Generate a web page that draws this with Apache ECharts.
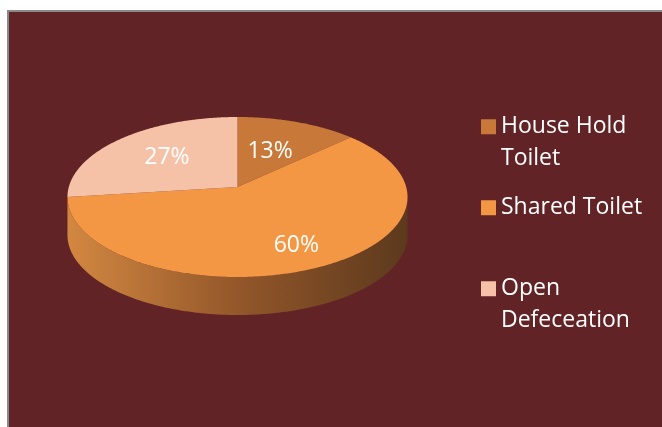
<!DOCTYPE html>
<html>
<head>
<meta charset="utf-8">
<script src="https://cdn.jsdelivr.net/npm/echarts@6/dist/echarts.min.js"></script>
<style>
html,body{margin:0;padding:0;background:#ffffff;}
#chart{width:662px;height:427px;}
</style>
</head>
<body>
<div id="chart"></div>
<script>
// ---- data ----
const categories = ['House Hold Toilet', 'Shared Toilet', 'Open Defeceation'];
const legendLines = [['House Hold', 'Toilet'], ['Shared Toilet'], ['Open', 'Defeceation']];
const values = [13, 60, 27];
const colors = ['#c8793a', '#f39745', '#f6c2a7'];

// ---- layout of the 3D pie ----
const CX = 237.5, CY = 187, R = 168.7, RT = 78.75, P = 0.125, DEPTH = 38;

function proj(phi, f, dy) {
  const u = Math.sin(phi) * f, v = Math.cos(phi) * f;
  const s = 1 / (1 + P * v);
  return [CX + R * u * s, CY - RT * v * s + dy];
}

const total = values.reduce((a, b) => a + b, 0);

function renderItem(params, api) {
  const i = params.dataIndex;
  let cum = 0;
  for (let k = 0; k < i; k++) cum += values[k];
  const share = values[i] / total;
  const a0 = cum / total * Math.PI * 2;
  const a1 = (cum + values[i]) / total * Math.PI * 2;
  const step = Math.PI / 360;
  const children = [];

  // top face
  const top = [proj(0, 0, 0)];
  for (let a = a0; a < a1; a += step) top.push(proj(a, 1, 0));
  top.push(proj(a1, 1, 0));
  children.push({type: 'polygon', shape: {points: top}, style: {fill: colors[i]}, z2: 10});

  // visible side wall
  const vis0 = Math.acos(-P), vis1 = Math.PI * 2 - vis0;
  const lo = Math.max(a0, vis0), hi = Math.min(a1, vis1);
  if (hi > lo) {
    const side = [];
    for (let a = lo; a < hi; a += step) side.push(proj(a, 1, 0));
    side.push(proj(hi, 1, 0));
    for (let a = hi; a > lo; a -= step) side.push(proj(a, 1, DEPTH));
    side.push(proj(lo, 1, DEPTH));
    const l = proj(vis1, 1, 0)[0], r = proj(vis0, 1, 0)[0];
    children.push({
      type: 'polygon', shape: {points: side},
      style: {fill: {type: 'linear', x: l, y: 0, x2: r, y2: 0, global: true,
        colorStops: [{offset: 0, color: '#d38841'}, {offset: 0.5, color: '#93572a'}, {offset: 1, color: '#5c391d'}]}},
      z2: 0
    });
  }

  // label
  const mid = (a0 + a1) / 2;
  const p = proj(mid, 0.45 + 0.5 * share, 0);
  children.push({
    type: 'text', x: p[0], y: p[1], z2: 20,
    style: {
      text: Math.round(share * 100) + '%',
      fill: '#ffffff', font: '23px "Open Sans"',
      align: 'center', verticalAlign: 'middle'
    }
  });
  return {type: 'group', children: children};
}

const rich = {
  t: {color: '#ffffff', fontSize: 23, fontFamily: 'Open Sans', lineHeight: 31.5, padding: [0, 0, 0, 5]},
  ind: {width: 15, height: 15}
};
colors.forEach((c, i) => { rich['b' + i] = {width: 15, height: 15, backgroundColor: c}; });

const chart = echarts.init(document.getElementById('chart'), null, {renderer: 'canvas'});
chart.setOption({
  backgroundColor: '#ffffff',
  animation: false,
  graphic: [{
    type: 'rect', z: -10,
    shape: {x: 8, y: 11, width: 700, height: 500},
    style: {fill: '#622326', stroke: '#8a8a8a', lineWidth: 2}
  }],
  legend: {
    orient: 'vertical', left: 476, top: 111, padding: 0,
    itemWidth: 0, itemHeight: 0, itemGap: 18,
    selectedMode: false,
    data: categories,
    formatter: function (name) {
      const i = categories.indexOf(name);
      const lines = legendLines[i].slice();
      if (lines.length < 2) lines.push(' ');
      return lines.map((ln, k) => (k === 0 ? '{b' + i + '| }' : '{ind| }') + '{t|' + ln + '}').join('\n');
    },
    textStyle: {color: '#ffffff', fontSize: 23, fontFamily: 'Open Sans', lineHeight: 31.5, rich: rich}
  },
  series: [
    {
      type: 'pie', silent: true, radius: [0, 1], center: [-50, -50],
      label: {show: false}, labelLine: {show: false},
      itemStyle: {opacity: 0},
      data: categories.map((n, i) => ({name: n, value: values[i], itemStyle: {color: colors[i]}}))
    },
    {
      type: 'custom', coordinateSystem: 'none', silent: true,
      renderItem: renderItem,
      data: values
    }
  ]
});
</script>
</body>
</html>
